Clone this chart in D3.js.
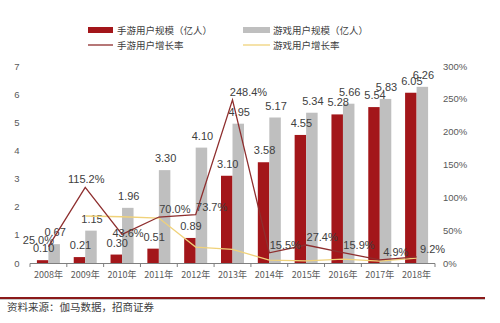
<!DOCTYPE html>
<html><head><meta charset="utf-8">
<script src="https://cdn.jsdelivr.net/npm/d3@7"></script>
<style>body{margin:0;background:#fff;}svg{display:block;}</style>
</head><body>
<script>
const years = ["2008年","2009年","2010年","2011年","2012年","2013年","2014年","2015年","2016年","2017年","2018年"];
const mobileUsers = [0.10,0.21,0.30,0.51,0.89,3.10,3.58,4.55,5.28,5.54,6.05];
const gameUsers = [0.67,1.15,1.96,3.30,4.10,4.95,5.17,5.34,5.66,5.83,6.26];
const mobileGrowth = [25.0,115.2,43.6,70.0,73.7,248.4,15.5,27.4,15.9,4.9,9.2];
const gameGrowth = [null,71.6,70.4,68.4,24.2,20.7,4.4,3.3,6.0,3.0,7.4];
const leftTicks = [0,1,2,3,4,5,6,7];
const rightTicks = [0,50,100,150,200,250,300];
const legendNames = ["手游用户规模（亿人）","游戏用户规模（亿人）","手游用户增长率","游戏用户增长率"];
const sourceText = "资料来源：伽马数据，招商证券";
// label placement style for growth labels
const growthLabelPlace = ["left","above","center","right","right","right","right","right","right","right","right"];

const W=500,H=323;
const red="#A3161A", gray="#BFBFBF", lineRed="#8E2E2E", yellow="#F0D27A", txt="#404040", axTxt="#595959";
const font="'Liberation Sans', Arial, sans-serif";
const cjk="'Noto Sans CJK SC', sans-serif";

const svg=d3.select("body").append("svg").attr("width",W).attr("height",H);

const x=d3.scaleBand().domain(years).range([30,435]);
const yL=d3.scaleLinear().domain([0,7]).range([263,66]);
const yR=d3.scaleLinear().domain([0,300]).range([263,66]);
const bw=11.5;

// left ticks
svg.append("g").selectAll("text").data(leftTicks).join("text")
 .attr("x",17).attr("y",d=>yL(d)+3.5).attr("text-anchor","middle")
 .attr("font-family",font).attr("font-size",9.5).attr("fill",axTxt).text(d=>d);
// right ticks
svg.append("g").selectAll("text").data(rightTicks).join("text")
 .attr("x",443).attr("y",d=>yR(d)+3.5).attr("text-anchor","start")
 .attr("font-family",font).attr("font-size",9.5).attr("fill",axTxt).text(d=>d+"%");

// bars
const g=svg.append("g");
g.selectAll(".rb").data(mobileUsers).join("rect")
 .attr("x",(d,i)=>x(years[i])+x.bandwidth()/2-bw).attr("width",bw)
 .attr("y",d=>yL(d)).attr("height",d=>yL(0)-yL(d)).attr("fill",red);
g.selectAll(".gb").data(gameUsers).join("rect")
 .attr("x",(d,i)=>x(years[i])+x.bandwidth()/2).attr("width",bw)
 .attr("y",d=>yL(d)).attr("height",d=>yL(0)-yL(d)).attr("fill",gray);

// x axis
const xa=svg.append("g");
xa.append("line").attr("x1",30).attr("x2",435).attr("y1",263.5).attr("y2",263.5).attr("stroke","#7f7f7f").attr("stroke-width",1);
xa.selectAll(".tk").data(years.concat(["end"])).join("line")
 .attr("x1",(d,i)=>30+i*x.step()).attr("x2",(d,i)=>30+i*x.step())
 .attr("y1",263.5).attr("y2",267).attr("stroke","#7f7f7f");
xa.selectAll("text").data(years).join("text")
 .attr("x",d=>x(d)+x.bandwidth()/2).attr("y",278).attr("text-anchor","middle")
 .attr("font-family",cjk).attr("font-size",9).attr("fill",axTxt).text(d=>d);

// bar labels
g.selectAll(".rl").data(mobileUsers).join("text")
 .attr("x",(d,i)=>x(years[i])+x.bandwidth()/2-bw/2+1).attr("y",d=>yL(d)-8)
 .attr("text-anchor","middle").attr("font-family",font).attr("font-size",11).attr("fill",txt)
 .text(d=>d.toFixed(2));
g.selectAll(".gl").data(gameUsers).join("text")
 .attr("x",(d,i)=>x(years[i])+x.bandwidth()/2+bw/2+1).attr("y",d=>yL(d)-8)
 .attr("text-anchor","middle").attr("font-family",font).attr("font-size",11).attr("fill",txt)
 .text(d=>d.toFixed(2));

// lines
const cx=i=>x(years[i])+x.bandwidth()/2;
const lineGen=d3.line().defined(d=>d!=null).x((d,i)=>cx(i)).y(d=>yR(d));
svg.append("path").datum(gameGrowth).attr("d",lineGen).attr("fill","none").attr("stroke",yellow).attr("stroke-width",1.3);
svg.append("path").datum(mobileGrowth).attr("d",lineGen).attr("fill","none").attr("stroke",lineRed).attr("stroke-width",1.3);

// growth labels
svg.append("g").selectAll("text").data(mobileGrowth).join("text")
 .attr("x",(d,i)=>{const p=growthLabelPlace[i];return cx(i)+(p==="left"?-10:p==="above"?1:p==="center"?6:16);})
 .attr("y",(d,i)=>{const p=growthLabelPlace[i];return yR(d)+(p==="left"?-3:p==="above"?-4:p==="center"?3:-4);})
 .attr("text-anchor","middle").attr("font-family",font).attr("font-size",11).attr("fill",txt)
 .text(d=>d.toFixed(1)+"%");

// legend
const lg=svg.append("g").attr("font-family",cjk).attr("font-size",9.5).attr("fill",txt);
lg.append("rect").attr("x",88).attr("y",27).attr("width",25).attr("height",6).attr("fill",red);
lg.append("text").attr("x",117).attr("y",33.5).text(legendNames[0]);
lg.append("rect").attr("x",243).attr("y",27).attr("width",27).attr("height",6).attr("fill",gray);
lg.append("text").attr("x",273).attr("y",33.5).text(legendNames[1]);
lg.append("line").attr("x1",88).attr("x2",113).attr("y1",45).attr("y2",45).attr("stroke",lineRed).attr("stroke-width",1.3);
lg.append("text").attr("x",117).attr("y",48.5).text(legendNames[2]);
lg.append("line").attr("x1",243).attr("x2",270).attr("y1",45).attr("y2",45).attr("stroke",yellow).attr("stroke-width",1.3);
lg.append("text").attr("x",273).attr("y",48.5).text(legendNames[3]);

// bottom rule and source
svg.append("line").attr("x1",0).attr("x2",485).attr("y1",298).attr("y2",298).attr("stroke","#8B1A1A").attr("stroke-width",2);
svg.append("line").attr("x1",0).attr("x2",485).attr("y1",299.5).attr("y2",299.5).attr("stroke","#c8c8c8").attr("stroke-width",1);
svg.append("text").attr("x",7).attr("y",311).attr("font-family",cjk).attr("font-size",10.5).attr("fill",txt).text(sourceText);
</script>
</body></html>
